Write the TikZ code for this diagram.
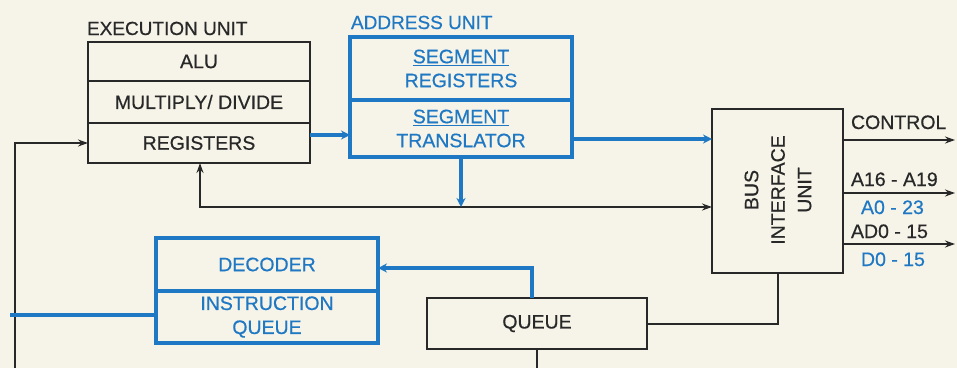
\documentclass[tikz,border=0pt]{standalone}
\usepackage{fontspec}
\setmainfont{Liberation Sans}
\newfontfamily\medfont{Liberation Sans}[FakeBold=0.5]
\usetikzlibrary{arrows.meta}
\definecolor{paper}{RGB}{246,243,232}
\definecolor{ink}{RGB}{40,40,40}
\definecolor{bl}{RGB}{30,120,195}
\begin{document}
\begin{tikzpicture}[x=1pt,y=-1pt,
  every node/.style={font=\medfont\fontsize{19.5}{24}\selectfont, inner sep=0pt, outer sep=0pt},
  ebox/.style={draw=ink, line width=2.2pt, text=ink, minimum width=222pt, align=center},
  bbox/.style={draw=bl, line width=3.4pt, text=bl, minimum width=222pt, align=center},
  arr/.style={draw=ink, line width=2pt, -{Stealth[length=10pt,width=7pt]}},
  barr/.style={draw=bl, line width=3.2pt, -{Stealth[length=9pt,width=9pt]}},
  eline/.style={draw=ink, line width=2pt},
  bline/.style={draw=bl, line width=3.2pt},
  lbl/.style={anchor=base west, text=ink},
  blbl/.style={anchor=base west, text=bl}]
\fill[paper] (0,0) rectangle (957,368);
\useasboundingbox (0,0) rectangle (957,368);
% execution unit
\node[lbl, font=\medfont\fontsize{19}{22}\selectfont] (eul) at (87,35) {EXECUTION UNIT};
\node[ebox, minimum height=39pt] (alu) at (199,61.5) {ALU};
\node[ebox, minimum height=42pt] (mul) at (199,102) {MULTIPLY/ DIVIDE};
\node[ebox, minimum height=40pt] (reg) at (199,143) {REGISTERS};
% address unit
\node[blbl, font=\medfont\fontsize{19}{22}\selectfont] (aul) at (351,29) {ADDRESS UNIT};
\node[bbox, minimum height=63pt] (sr) at (461,68.5) {\underline{SEGMENT}\\REGISTERS};
\node[bbox, minimum height=57pt] (st) at (461,128.5) {\underline{SEGMENT}\\TRANSLATOR};
% BIU
\node[ebox, minimum width=131pt, minimum height=164pt] (biu) at (777.5,191) {};
\node[text=ink, rotate=90, align=center, font=\medfont\fontsize{19.5}{26.5}\selectfont] (biut) at (778,190) {BUS\\INTERFACE\\UNIT};
% decoder
\node[bbox, minimum height=53pt] (dec) at (267,264.5) {DECODER};
\node[bbox, minimum height=52pt] (iq) at (267,317) {INSTRUCTION\\QUEUE};
% queue
\node[ebox, minimum width=220pt, minimum height=51pt] (queue) at (537,323.5) {QUEUE};
% output labels
\node[lbl] (lc) at (851,129) {CONTROL};
\node[lbl] (la) at (851,186) {A16 - A19};
\node[blbl] (la2) at (861,214) {A0 - 23};
\node[lbl] (ld) at (851,238) {AD0 - 15};
\node[blbl] (ld2) at (861,266) {D0 - 15};
% coordinates
\coordinate (s1) at (15,368);
\coordinate (j) at (200,207);
\coordinate (c1) at (0,135);
\coordinate (c2) at (0,139);
\coordinate (o1) at (955,140);
\coordinate (o2) at (955,193);
\coordinate (o3) at (955,244);
\coordinate (qb) at (537,368);
\coordinate (qt) at (532,298);
\coordinate (c3) at (0,268);
\coordinate (s2) at (10,315);
% connectors
\draw[arr] (s1) |- (reg.west);
\draw[arr, {Stealth[length=10pt,width=7pt]}-{Stealth[length=10pt,width=7pt]}] (reg.south -| j) |- (biu.west |- j);
\draw[barr] (st.south) -- (st.south |- j);
\draw[barr] (reg.east |- c1) -- (st.west |- c1);
\draw[barr] (st.east |- c2) -- (biu.west |- c2);
\draw[arr] (biu.east |- o1) -- (o1);
\draw[arr] (biu.east |- o2) -- (o2);
\draw[arr] (biu.east |- o3) -- (o3);
\draw[eline] (biu.south) |- (queue.east);
\draw[eline] (queue.south) -- (qb);
\draw[barr] (qt) |- (dec.east |- c3);
\draw[bline] (s2) -- (iq.west |- s2);
\end{tikzpicture}
\end{document}
